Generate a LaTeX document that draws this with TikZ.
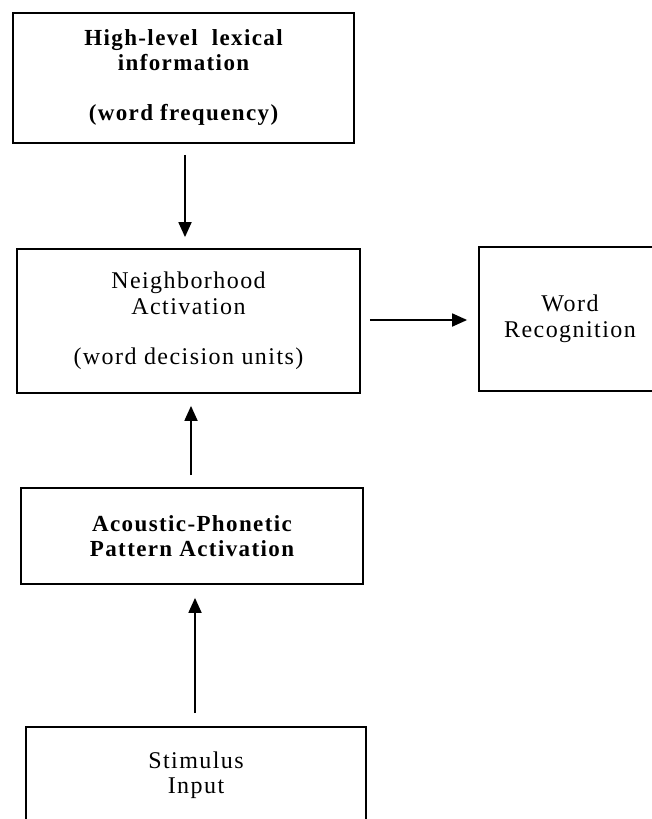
\documentclass[tikz,border=0pt]{standalone}
\usepackage{fontspec}
\setmainfont{Liberation Serif}[LetterSpace=6]
\usetikzlibrary{arrows.meta}

\tikzset{
  box/.style={draw=black, line width=1.8pt, rectangle, align=center,
    inner sep=0pt, font=\fontsize{24pt}{25.5pt}\selectfont},
  boldbox/.style={box, font=\fontsize{23pt}{25pt}\selectfont\bfseries},
  arr/.style={draw=black, line width=1.8pt,
    -{Triangle[length=15pt,width=13pt]}}
}

\begin{document}
\begin{tikzpicture}[x=1pt, y=-1pt]
\useasboundingbox (0,0) rectangle (652,819);

% lexical level
\node[boldbox, minimum width=341pt, minimum height=130pt] (hi) at (183.5,78)
  {High-level\hspace{0.3em} lexical\\information\\[25pt](word frequency)};

% neighborhood activation and the decision it feeds
\node[box, minimum width=343pt, minimum height=144pt] (nbr) at (188.5,321)
  {Neighborhood\\Activation\\[25pt](word decision units)};
\node[box, minimum width=182pt, minimum height=144pt] (wr) at (570,319)
  {Word\\Recognition};

% acoustic-phonetic level and input
\node[boldbox, minimum width=342pt, minimum height=96pt] (ap) at (192,536)
  {Acoustic-Phonetic\\Pattern Activation};
\node[box, minimum width=340pt, minimum height=96pt] (si) at (196,775)
  {Stimulus\\Input};

% connectors
\draw[arr, shorten <=11pt, shorten >=11pt] ([xshift=1.5pt]hi.south) -- ([xshift=-3.5pt]nbr.north);
\draw[arr, shorten <=9pt, shorten >=11pt] ([yshift=1pt]nbr.east) -- ([yshift=-1pt]wr.west);
\draw[arr, shorten <=12pt, shorten >=12pt] ([xshift=-1pt]ap.north) -- ([xshift=2.5pt]nbr.south);
\draw[arr, shorten <=13pt, shorten >=13pt] ([xshift=-1pt]si.north) -- ([xshift=3pt]ap.south);
\end{tikzpicture}
\end{document}
